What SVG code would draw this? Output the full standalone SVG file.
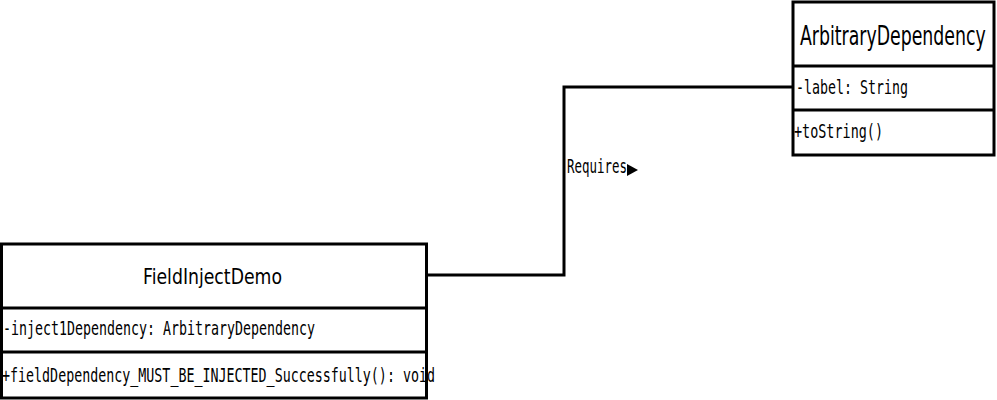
<svg xmlns="http://www.w3.org/2000/svg" width="997" height="400" viewBox="0 0 997 400">
<style>
.box{fill:#fff;stroke:#000;stroke-width:3}
.sep{stroke:#000;stroke-width:3}
.title{font-family:"DejaVu Sans",sans-serif;fill:#000}
.mono{font-family:"DejaVu Sans Mono",monospace;font-size:20px;fill:#000}
.conn{fill:none;stroke:#000;stroke-width:3}
</style>
<rect width="997" height="400" fill="#fff"/>
<g id="connectors">
<path class="conn" d="M427,275 H564 V87 H793"/>
<text class="mono" x="567" y="173" textLength="60" lengthAdjust="spacingAndGlyphs">Requires</text>
<polygon points="627,164 638,170 627,176" fill="#000"/>
</g>
<g id="ArbitraryDependency">
<rect class="box" x="793" y="2" width="201" height="153"/>
<line class="sep" x1="793" y1="66" x2="994" y2="66"/>
<line class="sep" x1="793" y1="110" x2="994" y2="110"/>
<text class="title" transform="translate(800,45) scale(0.667,1)" x="0" y="0" font-size="26">ArbitraryDependency</text>
<text class="mono" x="796" y="94" textLength="112" lengthAdjust="spacingAndGlyphs">-label: String</text>
<text class="mono" x="794" y="138" textLength="89" lengthAdjust="spacingAndGlyphs">+toString()</text>
</g>
<g id="FieldInjectDemo">
<rect class="box" x="1.5" y="244" width="425" height="154"/>
<line class="sep" x1="1.5" y1="308" x2="426.5" y2="308"/>
<line class="sep" x1="1.5" y1="352" x2="426.5" y2="352"/>
<text class="title" x="143" y="284" font-size="22" textLength="139" lengthAdjust="spacingAndGlyphs">FieldInjectDemo</text>
<text class="mono" x="3" y="335" textLength="312" lengthAdjust="spacingAndGlyphs">-inject1Dependency: ArbitraryDependency</text>
<text class="mono" x="2" y="382" textLength="433" lengthAdjust="spacingAndGlyphs">+fieldDependency_MUST_BE_INJECTED_Successfully(): void</text>
</g>
</svg>
